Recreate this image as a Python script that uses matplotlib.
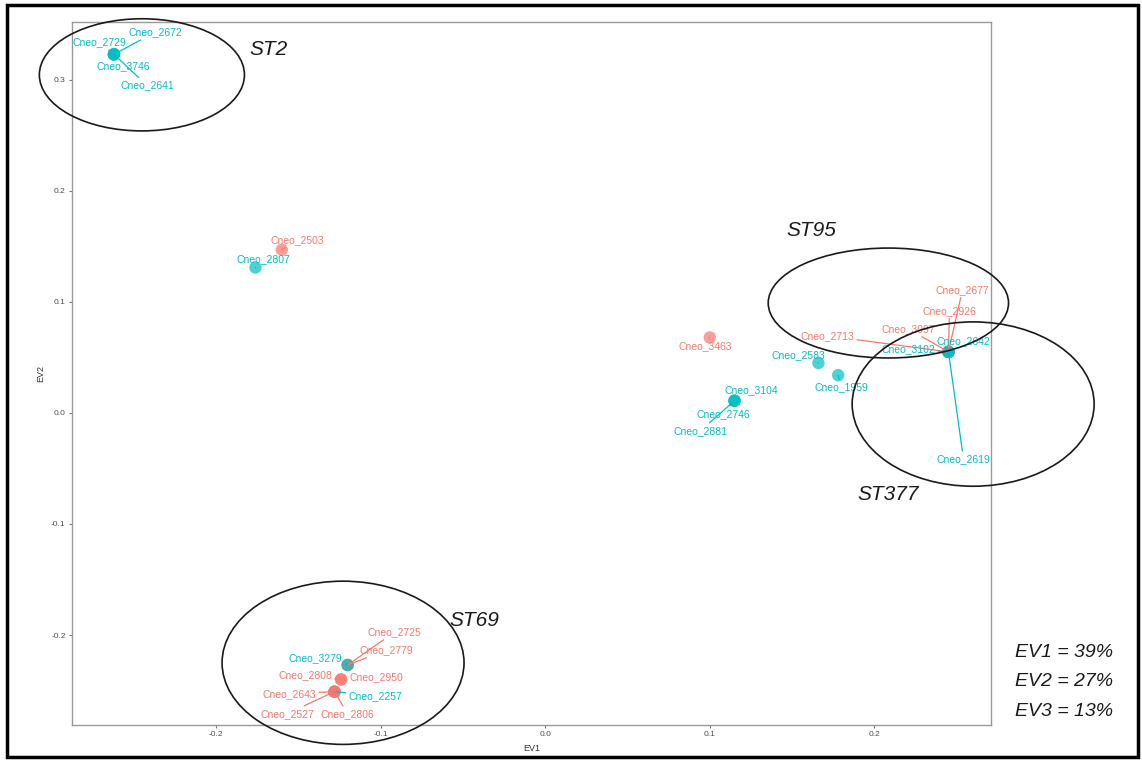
import matplotlib.pyplot as plt
import numpy as np
from matplotlib.patches import Ellipse, Rectangle

plt.rcParams['font.family'] = ['Liberation Sans', 'DejaVu Sans']

# isolate names, coordinates on the first two eigenvectors and colour group
# (drawn in this order, so later isolates sit on top of overlapping ones)
names = ['Cneo_2672', 'Cneo_2729', 'Cneo_3746', 'Cneo_2641',
         'Cneo_2503', 'Cneo_2807', 'Cneo_3463', 'Cneo_2583', 'Cneo_1959',
         'Cneo_3104', 'Cneo_2746', 'Cneo_2881',
         'Cneo_2677', 'Cneo_2926', 'Cneo_3097', 'Cneo_2713',
         'Cneo_3102', 'Cneo_2642', 'Cneo_2619',
         'Cneo_2725', 'Cneo_2779', 'Cneo_3279',
         'Cneo_2808', 'Cneo_2950',
         'Cneo_2257', 'Cneo_2643', 'Cneo_2527', 'Cneo_2806']
ev1 = [-0.262, -0.262, -0.262, -0.262,
       -0.160, -0.176, 0.100, 0.166, 0.178,
       0.115, 0.115, 0.115,
       0.245, 0.245, 0.245, 0.245,
       0.245, 0.245, 0.245,
       -0.120, -0.120, -0.120,
       -0.124, -0.124,
       -0.128, -0.128, -0.128, -0.128]
ev2 = [0.323, 0.323, 0.323, 0.323,
       0.147, 0.131, 0.068, 0.045, 0.034,
       0.011, 0.011, 0.011,
       0.055, 0.055, 0.055, 0.055,
       0.055, 0.055, 0.055,
       -0.227, -0.227, -0.227,
       -0.240, -0.240,
       -0.251, -0.251, -0.251, -0.251]
group = ['b', 'b', 'b', 'b',
         'r', 'b', 'r', 'b', 'b',
         'b', 'b', 'b',
         'r', 'r', 'r', 'r',
         'b', 'b', 'b',
         'r', 'r', 'b',
         'r', 'r',
         'b', 'r', 'r', 'r']

# explained variance per eigenvector (%)
ev_names = ['EV1', 'EV2', 'EV3']
ev_pct = [39, 27, 13]

# sequence types circled on the plot
st_names = ['ST2', 'ST95', 'ST377', 'ST69']

colors = {'r': '#F8766D', 'b': '#00BFC4'}

# label offsets from their point, in pixels (repelled-label layout)
label_offsets = [(41, 22), (-14, 12), (9, -12), (33, -31),
                 (15, 10), (8, 8), (-5, -9), (-20, 8), (3, -12),
                 (17, 11), (-11, -13), (-34, -30),
                 (14, 62), (1, 41), (-40, 23), (-121, 16),
                 (-40, 3), (15, 11), (15, -107),
                 (47, 33), (39, 15), (-32, 7),
                 (-36, 4), (35, 2),
                 (41, -4), (-45, -2), (-47, -22), (13, -22)]

# hand-drawn circles round each sequence type: centre, width, height
st_ellipses = [((-0.245, 0.3045), 0.1246, 0.101),
               ((0.2085, 0.099), 0.146, 0.099),
               ((0.260, 0.008), 0.147, 0.148),
               ((-0.1228, -0.225), 0.147, 0.147)]
st_label_pos = [(-0.168, 0.327), (0.1615, 0.164), (0.2085, -0.0735), (-0.043, -0.1865)]

fig = plt.figure(figsize=(11.42, 7.62), dpi=100)
ax = fig.add_axes([0.063, 0.0486, 0.805, 0.9224])

for i in range(len(names)):
    ax.scatter(ev1[i], ev2[i], s=80, color=colors[group[i]], alpha=0.7,
               edgecolors='none', zorder=3)

px = 72 / fig.dpi
for i, name in enumerate(names):
    dx, dy = label_offsets[i]
    ax.annotate(name, (ev1[i], ev2[i]), xytext=(dx * px, dy * px),
                textcoords='offset points', ha='center', va='center',
                fontsize=7.5, color=colors[group[i]], zorder=4,
                arrowprops=dict(arrowstyle='-', color=colors[group[i]],
                                lw=0.9, shrinkA=0, shrinkB=0))

for (c, w, h), lbl, pos in zip(st_ellipses, st_names, st_label_pos):
    ax.add_patch(Ellipse(c, w, h, fill=False, edgecolor='#1a1a1a', lw=1.2,
                         clip_on=False, zorder=5))
    ax.text(pos[0], pos[1], lbl, fontsize=15, style='italic', color='#1a1a1a',
            ha='center', va='center', zorder=5)

ax.set_xlim(-0.2875, 0.271)
ax.set_ylim(-0.281, 0.352)
ax.set_xticks([-0.2, -0.1, 0.0, 0.1, 0.2])
ax.set_xticklabels(['-0.2', '-0.1', '0.0', '0.1', '0.2'])
ax.set_yticks([-0.2, -0.1, 0.0, 0.1, 0.2, 0.3])
ax.set_yticklabels(['-0.2', '-0.1', '0.0', '0.1', '0.2', '0.3'])
ax.tick_params(labelsize=6, colors='#777777', labelcolor='#4d4d4d',
               length=2.5, width=0.8, pad=2)
for sp in ax.spines.values():
    sp.set_color('#999999')
    sp.set_linewidth(1.0)
ax.set_xlabel('EV1', fontsize=6.5, color='#333333', labelpad=4)
ax.set_ylabel('EV2', fontsize=6.5, color='#333333', labelpad=4)

for k, (n, p) in enumerate(zip(ev_names, ev_pct)):
    fig.text(0.889, 0.144 - k * 0.039, f'{n} = {p}%', fontsize=14,
             style='italic', color='#1a1a1a', ha='left', va='center')

# black frame round the whole figure
fig.patches.append(Rectangle((0.006, 0.0066), 0.9905, 0.9868, fill=False,
                             edgecolor='black', lw=2.5,
                             transform=fig.transFigure, figure=fig))

fig.savefig('out.png', dpi=100)
